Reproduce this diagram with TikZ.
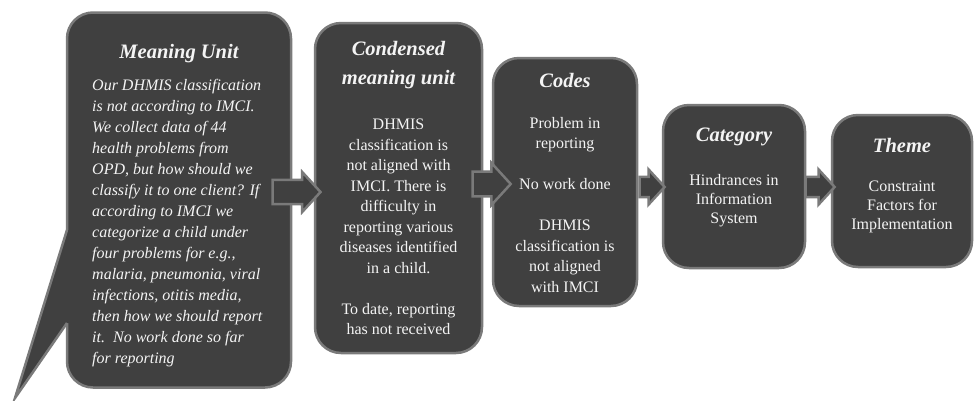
\documentclass[tikz,border=0pt]{standalone}
\usepackage{fontspec}
\newfontfamily\boxfont{Liberation Serif}
\usetikzlibrary{shapes.arrows,positioning}
\definecolor{boxfill}{HTML}{404040}
\definecolor{boxline}{HTML}{7A7A7A}
\definecolor{boxtext}{HTML}{F4F4F4}
\tikzset{
  box/.style={draw=boxline, fill=boxfill, line width=2.5pt, rounded corners=26pt, inner sep=0pt},
  head/.style={text=boxtext, font=\boxfont\fontsize{20.5}{29}\selectfont\bfseries\itshape, align=center, anchor=north, inner sep=0pt},
  body/.style={text=boxtext, font=\boxfont\fontsize{16}{20.5}\selectfont, align=center, anchor=north, inner sep=0pt},
  blockarrow/.style={single arrow, draw=boxline, fill=boxfill, line width=2.5pt, inner xsep=0pt, single arrow tip angle=95}
}
\begin{document}
\begin{tikzpicture}[x=1pt,y=-1pt]
\useasboundingbox (0,0) rectangle (975,400);
% the five boxes
\node[box, minimum width=224pt, minimum height=375pt] (mu) at (179,200) {};
\node[box, minimum width=167pt, minimum height=330pt] (cmu) at (398.5,188) {};
\node[box, minimum width=144pt, minimum height=248pt] (codes) at (565,182) {};
\node[box, minimum width=142pt, minimum height=163pt] (cat) at (734,186.5) {};
\node[box, minimum width=140pt, minimum height=152pt] (theme) at (902,191) {};
% tail of the callout
\coordinate (tip) at (15,398);
\fill[boxfill] (67,230) -- (tip) -- (67,323) -- (72,323) -- (72,230) -- cycle;
\draw[boxline, line width=2.5pt] (67,230) -- (tip) -- (67,323);
% texts
\node[head] (mutitle) at (179,44) {Meaning Unit};
\node[body, align=left, anchor=north west, font=\boxfont\fontsize{16}{21}\selectfont\itshape] (mutext) at (92,79) {
    Our DHMIS classification\\
    is not according to IMCI.\\
    We collect data of 44\\
    health problems from\\
    OPD, but how should we\\
    classify it to one client? If\\
    according to IMCI we\\
    categorize a child under\\
    four problems for e.g.,\\
    malaria, pneumonia, viral\\
    infections, otitis media,\\
    then how we should report\\
    it.\ \ No work done so far\\
    for reporting};
\node[head] (cmutitle) at (398.5,41) {Condensed\\meaning unit};
\node[body] (cmutext) at (398.5,119) {
    DHMIS\\
    classification is\\
    not aligned with\\
    IMCI. There is\\
    difficulty in\\
    reporting various\\
    diseases identified\\
    in a child.\\[20.5pt]
    To date, reporting\\
    has not received};
\node[head] (codestitle) at (565,73) {Codes};
\node[body] (codestext) at (565,117) {
    Problem in\\
    reporting\\[20.5pt]
    No work done\\[20.5pt]
    DHMIS\\
    classification is\\
    not aligned\\
    with IMCI};
\node[head] (cattitle) at (734,128) {Category};
\node[body, font=\boxfont\fontsize{16}{19}\selectfont] (cattext) at (734,174) {
    Hindrances in\\
    Information\\
    System};
\node[head] (themetitle) at (902,138) {Theme};
\node[body, font=\boxfont\fontsize{16}{19}\selectfont] (themetext) at (902,181) {
    Constraint\\
    Factors for\\
    Implementation};
% block arrows between the boxes
\node[blockarrow, minimum height=48pt, minimum width=40pt, inner ysep=9.5pt] (a1) at (291,192) {};
\node[blockarrow, minimum height=38pt, minimum width=42pt, inner ysep=9pt] (a2) at (486,184) {};
\node[blockarrow, minimum height=25pt, minimum width=35pt, inner ysep=8.5pt] (a3) at (647.5,187) {};
\node[blockarrow, minimum height=29pt, minimum width=35pt, inner ysep=8.5pt] (a4) at (815.5,187) {};
\end{tikzpicture}
\end{document}
